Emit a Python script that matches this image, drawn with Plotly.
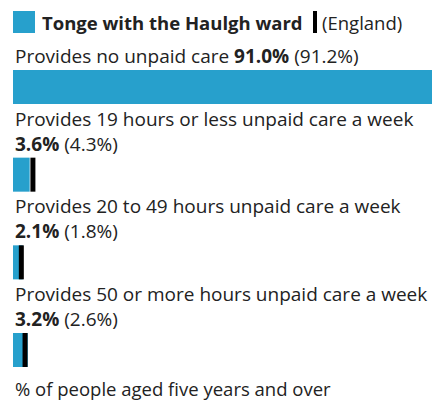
import plotly.graph_objects as go

categories = [
    "Provides no unpaid care",
    "Provides 19 hours or less unpaid care a week",
    "Provides 20 to 49 hours unpaid care a week",
    "Provides 50 or more hours unpaid care a week",
]
ward_values = [91.0, 3.6, 2.1, 3.2]
england_values = [91.2, 4.3, 1.8, 2.6]
ward_name = "Tonge with the Haulgh ward"
comparison_name = "England"
footer = "% of people aged five years and over"

BLUE = "#27A0CC"
TEXT = "#222222"
FONT = "Open Sans"
FS = 19
FS_LEG = 18.5
W, H = 432, 400
L = 13
PW = W - L
BAR_PX = 34

idx = list(range(len(categories)))

fig = go.Figure()
fig.add_trace(go.Bar(
    x=ward_values, y=idx, orientation="h", width=0.388,
    marker=dict(color=BLUE, line=dict(width=0)), hoverinfo="skip",
))
fig.add_trace(go.Scatter(
    x=england_values, y=idx, mode="markers", cliponaxis=True,
    marker=dict(symbol="line-ns", size=BAR_PX / 1.4,
                line=dict(width=5, color="#000000")),
    hoverinfo="skip",
))

annotations = []
for i, (c, w, e) in enumerate(zip(categories, ward_values, england_values)):
    val = f"<b>{w:.1f}%</b> ({e:.1f}%)"
    if i == 0:
        text, shift = f"{c} {val}", 31
    else:
        text, shift = f"{c}<br>{val}", 43.5
    annotations.append(dict(
        xref="paper", yref="y", x=0, y=i, xanchor="left", yanchor="middle",
        yshift=shift, align="left", showarrow=False, text=text,
        font=dict(family=FONT, size=FS, color=TEXT),
    ))

# legend
annotations.append(dict(
    xref="paper", yref="paper", x=(40 - L) / PW, y=1 - 22 / H,
    xanchor="left", yanchor="middle", showarrow=False,
    text=f"<b>{ward_name}</b>", font=dict(family=FONT, size=FS_LEG, color=TEXT),
))
annotations.append(dict(
    xref="paper", yref="paper", x=(320 - L) / PW, y=1 - 22 / H,
    xanchor="left", yanchor="middle", showarrow=False,
    text=f"({comparison_name})", font=dict(family=FONT, size=FS_LEG, color=TEXT),
))
annotations.append(dict(
    xref="paper", yref="paper", x=0, y=1 - 388 / H,
    xanchor="left", yanchor="middle", showarrow=False,
    text=footer, font=dict(family=FONT, size=FS_LEG, color=TEXT),
))

shapes = [
    dict(type="rect", xref="paper", yref="paper", x0=0, x1=22 / PW,
         y0=1 - 33 / H, y1=1 - 11 / H, fillcolor=BLUE, line=dict(width=0)),
    dict(type="rect", xref="paper", yref="paper", x0=(313 - L) / PW, x1=(317 - L) / PW,
         y0=1 - 33 / H, y1=1 - 11 / H, fillcolor="#000000", line=dict(width=0)),
]

fig.update_layout(
    width=W, height=H,
    margin=dict(l=L, r=0, t=0, b=0),
    paper_bgcolor="white", plot_bgcolor="white",
    showlegend=False,
    xaxis=dict(range=[0, 90.5], visible=False, fixedrange=True),
    yaxis=dict(range=[3.570, -0.992], visible=False, fixedrange=True),
    annotations=annotations, shapes=shapes,
    font=dict(family=FONT, color=TEXT),
)

fig.write_html("out.html", config={"displayModeBar": False},
               post_script="document.body.style.margin='0';")
